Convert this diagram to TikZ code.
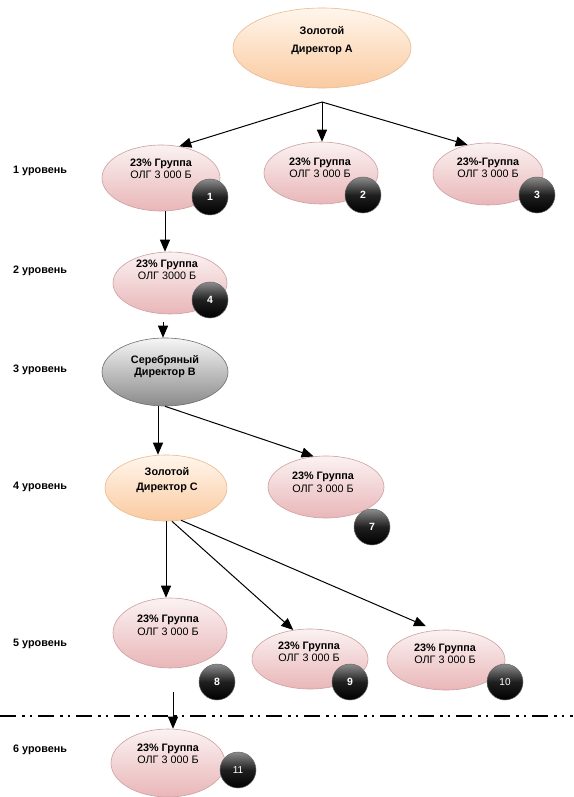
\documentclass[tikz,border=0pt]{standalone}
\usepackage{fontspec}
\setmainfont{Liberation Sans}
\usetikzlibrary{arrows.meta,shapes.geometric,calc}
\definecolor{pinktop}{RGB}{251,242,242}
\definecolor{pinkbot}{RGB}{233,182,184}
\definecolor{pinkline}{RGB}{205,160,160}
\definecolor{goldtop}{RGB}{255,246,236}
\definecolor{goldbot}{RGB}{250,202,160}
\definecolor{goldline}{RGB}{232,186,146}
\definecolor{graytop}{RGB}{246,246,246}
\definecolor{graybot}{RGB}{138,138,138}
\definecolor{grayline}{RGB}{110,110,110}
\tikzset{
  grp/.style={ellipse, draw=pinkline, line width=0.6pt, top color=pinktop, bottom color=pinkbot, inner sep=0pt},
  gold/.style={ellipse, draw=goldline, line width=0.6pt, top color=goldtop, bottom color=goldbot, inner sep=0pt},
  silver/.style={ellipse, draw=grayline, line width=0.6pt, top color=graytop, bottom color=graybot, inner sep=0pt},
  txt/.style={align=center, font=\fontsize{10.8}{12}\selectfont, inner sep=0pt},
  badge/.style={circle, minimum size=36pt, inner sep=0pt, draw=black!60, line width=0.5pt,
    top color=black!45, bottom color=black, middle color=black!88,
    text=white, font=\fontsize{10.5}{11}\selectfont\bfseries},
  lvl/.style={anchor=west, font=\fontsize{10.8}{12}\selectfont\bfseries, inner sep=0pt},
  conn/.style={line width=1pt, -{Triangle[length=12pt,width=10pt]}}
}
\begin{document}
\begin{tikzpicture}[x=1pt,y=-1pt]
\useasboundingbox[fill=white] (0,0) rectangle (573,797);

% level labels
\node[lvl] (l1) at (13,171) {1 уровень};
\node[lvl] (l2) at (13,271) {2 уровень};
\node[lvl] (l3) at (13,370) {3 уровень};
\node[lvl] (l4) at (13,487) {4 уровень};
\node[lvl] (l5) at (13,644) {5 уровень};
\node[lvl] (l6) at (13,750) {6 уровень};

% directors
\node[gold, minimum width=178pt, minimum height=80pt] (A) at (322,48) {};
\node[txt, font=\fontsize{10.8}{18}\selectfont\bfseries] (tA) at (322,41) {Золотой\\Директор А};
\node[silver, minimum width=126pt, minimum height=68pt] (B) at (165,372) {};
\node[txt, font=\fontsize{10.8}{12}\selectfont\bfseries] (tB) at (165,367) {Серебряный\\Директор В};
\node[gold, minimum width=122pt, minimum height=66pt] (C) at (166,488) {};
\node[txt, font=\fontsize{10.8}{15}\selectfont\bfseries] (tC) at (167,480) {Золотой\\Директор С};

% groups
\node[grp, minimum width=118pt, minimum height=66pt] (g1) at (161,178) {};
\node[txt] (t1) at (161,169) {\textbf{23\% Группа}\\ОЛГ 3 000 Б};
\node[badge] (b1) at (210,197) {1};

\node[grp, minimum width=114pt, minimum height=62pt] (g2) at (321,173) {};
\node[txt] (t2) at (320,168) {\textbf{23\% Группа}\\ОЛГ 3 000 Б};
\node[badge] (b2) at (363,195) {2};

\node[grp, minimum width=110pt, minimum height=62pt] (g3) at (488,174) {};
\node[txt] (t3) at (488,168) {\textbf{23\%-Группа}\\ОЛГ 3 000 Б};
\node[badge] (b3) at (537,195) {3};

\node[grp, minimum width=114pt, minimum height=62pt] (g4) at (170,283) {};
\node[txt] (t4) at (167,270) {\textbf{23\% Группа}\\ОЛГ 3000 Б};
\node[badge] (b4) at (210,300) {4};

\node[grp, minimum width=116pt, minimum height=62pt] (g7) at (326,487) {};
\node[txt, font=\fontsize{10.8}{13}\selectfont] (t7) at (323,482) {\textbf{23\% Группа}\\ОЛГ 3 000 Б};
\node[badge] (b7) at (372,527) {7};

\node[grp, minimum width=114pt, minimum height=70pt] (g8) at (170,633) {};
\node[txt, font=\fontsize{10.8}{13}\selectfont] (t8) at (168,625) {\textbf{23\% Группа}\\ОЛГ 3 000 Б};
\node[badge] (b8) at (217,682) {8};

\node[grp, minimum width=116pt, minimum height=60pt] (g9) at (310,659) {};
\node[txt] (t9) at (309,652) {\textbf{23\% Группа}\\ОЛГ 3 000 Б};
\node[badge] (b9) at (350,682) {9};

\node[grp, minimum width=118pt, minimum height=60pt] (g10) at (446,660) {};
\node[txt] (t10) at (445,654) {\textbf{23\% Группа}\\ОЛГ 3 000 Б};
\node[badge, font=\fontsize{10}{11}\selectfont] (b10) at (505,682) {10};

\node[grp, minimum width=114pt, minimum height=68pt] (g11) at (168,763) {};
\node[txt] (t11) at (168,754) {\textbf{23\% Группа}\\ОЛГ 3 000 Б};
\node[badge, font=\fontsize{10}{11}\selectfont] (b11) at (238,770) {11};

% connectors
\coordinate (split) at (322,102);
\draw[conn] (split) -- (g1.60);
\draw[conn] (split) -- (split |- g2.north);
\draw[conn] (split) -- (g3.125);
\draw[conn] ([xshift=4pt]g1.south) -- ([xshift=4pt]g1.south |- g4.north);
\draw[conn, shorten <=8pt] ([xshift=-7pt]g4.south) -- ([xshift=-7pt]g4.south |- B.north);
\draw[conn] ([xshift=-7pt]B.south) -- ([xshift=-7pt]B.south |- C.north);
\draw[conn] (B.south) -- (g7.112);
\draw[conn] (C.south) -- (C.south |- g8.north);
\draw[conn] (C.-80) -- (g9.120);
\draw[conn, shorten >=10pt] (C.-65) -- (g10.110);

% separator
\coordinate (sepL) at (0,716);
\coordinate (sepR) at (573,716);
\draw[line width=2.6pt, dash pattern=on 16pt off 6pt on 2.5pt off 5pt on 2.5pt off 6pt] (sepL) -- (sepR);

\draw[conn, shorten <=24pt] ([xshift=3pt]g8.south) -- ([xshift=3pt]g8.south |- g11.north);
\end{tikzpicture}
\end{document}
